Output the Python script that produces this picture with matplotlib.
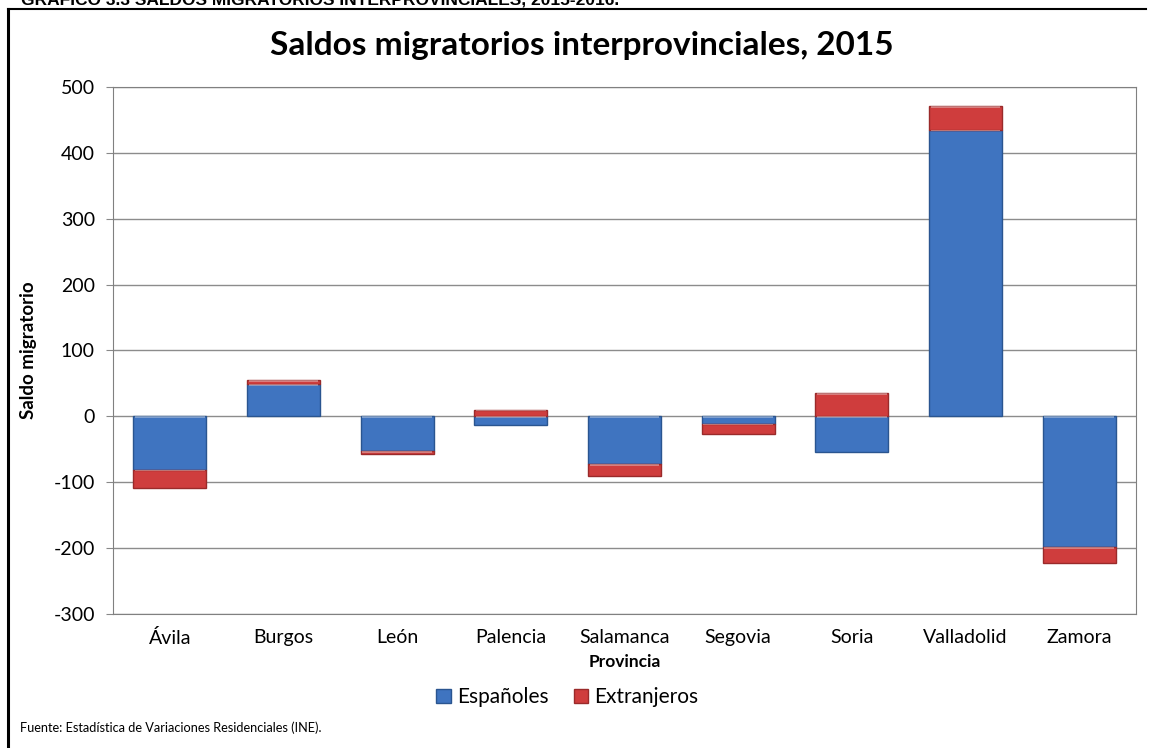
import numpy as np
import matplotlib.pyplot as plt
from matplotlib.patches import Patch

# -------------------------------
# Data
# -------------------------------
provincias = ["Ávila", "Burgos", "León", "Palencia", "Salamanca",
              "Segovia", "Soria", "Valladolid", "Zamora"]
espanoles = [-81, 49, -53, -13, -73, -11, -54, 435, -198]
extranjeros = [-27, 6, -4, 10, -18, -16, 35, 36, -24]
y_ticks = [-300, -200, -100, 0, 100, 200, 300, 400, 500]

plt.rcParams['font.family'] = ['Lato', 'DejaVu Sans']
plt.rcParams['axes.unicode_minus'] = False

fig = plt.figure(figsize=(11.58, 7.48), dpi=100)
ax = fig.add_axes([0.0976, 0.179, 0.8834, 0.705])

x = np.arange(len(provincias))
w = 0.64
blue = '#3F74C0'
red = '#CF3D3D'

# stacking like Excel: positives up from 0, negatives down from 0
pos_base = np.zeros(len(x))
neg_base = np.zeros(len(x))
for vals, col, edge in [(espanoles, blue, '#2A5590'), (extranjeros, red, '#9A2A2A')]:
    vals = np.array(vals, dtype=float)
    bottoms = np.where(vals >= 0, pos_base, neg_base)
    ax.bar(x, vals, w, bottom=bottoms, color=col, edgecolor=edge,
           linewidth=1, zorder=3)
    # light bevel strip on the top edge of each segment
    top = bottoms + np.maximum(vals, 0)
    ax.bar(x, np.full(len(x), -2.5), w * 0.96, bottom=top,
           color='white', alpha=0.35, linewidth=0, zorder=4)
    pos_base = pos_base + np.maximum(vals, 0)
    neg_base = neg_base + np.minimum(vals, 0)

ax.set_xlim(-0.5, len(x) - 0.5)
ax.set_ylim(-300, 500)
ax.set_yticks(y_ticks)
ax.set_xticks(x)
ax.set_xticklabels(provincias, fontsize=14)
ax.tick_params(axis='y', labelsize=14, length=5, color='#888888', pad=8)
ax.tick_params(axis='x', length=0, pad=11)
ax.grid(axis='y', color='#8c8c8c', linewidth=1, zorder=0)
for s in ax.spines.values():
    s.set_color('#808080')

ax.set_ylabel("Saldo migratorio", fontsize=13.5, fontweight='bold', labelpad=12)
ax.set_xlabel("Provincia", fontsize=12.5, fontweight='bold', labelpad=5)

fig.text(0.502, 0.939, "Saldos migratorios interprovinciales, 2015",
         ha='center', va='center', fontsize=24, fontweight='bold')

handles = [Patch(facecolor=blue, edgecolor='#2A5590'),
           Patch(facecolor=red, edgecolor='#9A2A2A')]
fig.legend(handles, ["Españoles", "Extranjeros"], loc='center',
           bbox_to_anchor=(0.49, 0.068), ncol=2, frameon=False,
           fontsize=15, handlelength=0.7, handleheight=0.7,
           handletextpad=0.3, columnspacing=1.2)

fig.text(0.017, 0.027, "Fuente: Estadística de Variaciones Residenciales (INE).",
         ha='left', va='center', fontsize=9.2)

# caption above the frame (cut off at the top as in the source)
fig.text(0.018, 0.9895, "GRÁFICO 3.3 SALDOS MIGRATORIOS INTERPROVINCIALES, 2015-2016.",
         ha='left', va='bottom', fontsize=12.5, fontweight='bold',
         family=['Liberation Sans', 'DejaVu Sans'])

# outer frame: left and top lines
fig.add_artist(plt.Line2D([0.0069, 0.0069], [0.0, 0.988], color='black',
                          linewidth=2.2, transform=fig.transFigure))
fig.add_artist(plt.Line2D([0.0069, 0.99], [0.988, 0.988], color='black',
                          linewidth=1.5, transform=fig.transFigure))

fig.savefig("out.png", dpi=100)
